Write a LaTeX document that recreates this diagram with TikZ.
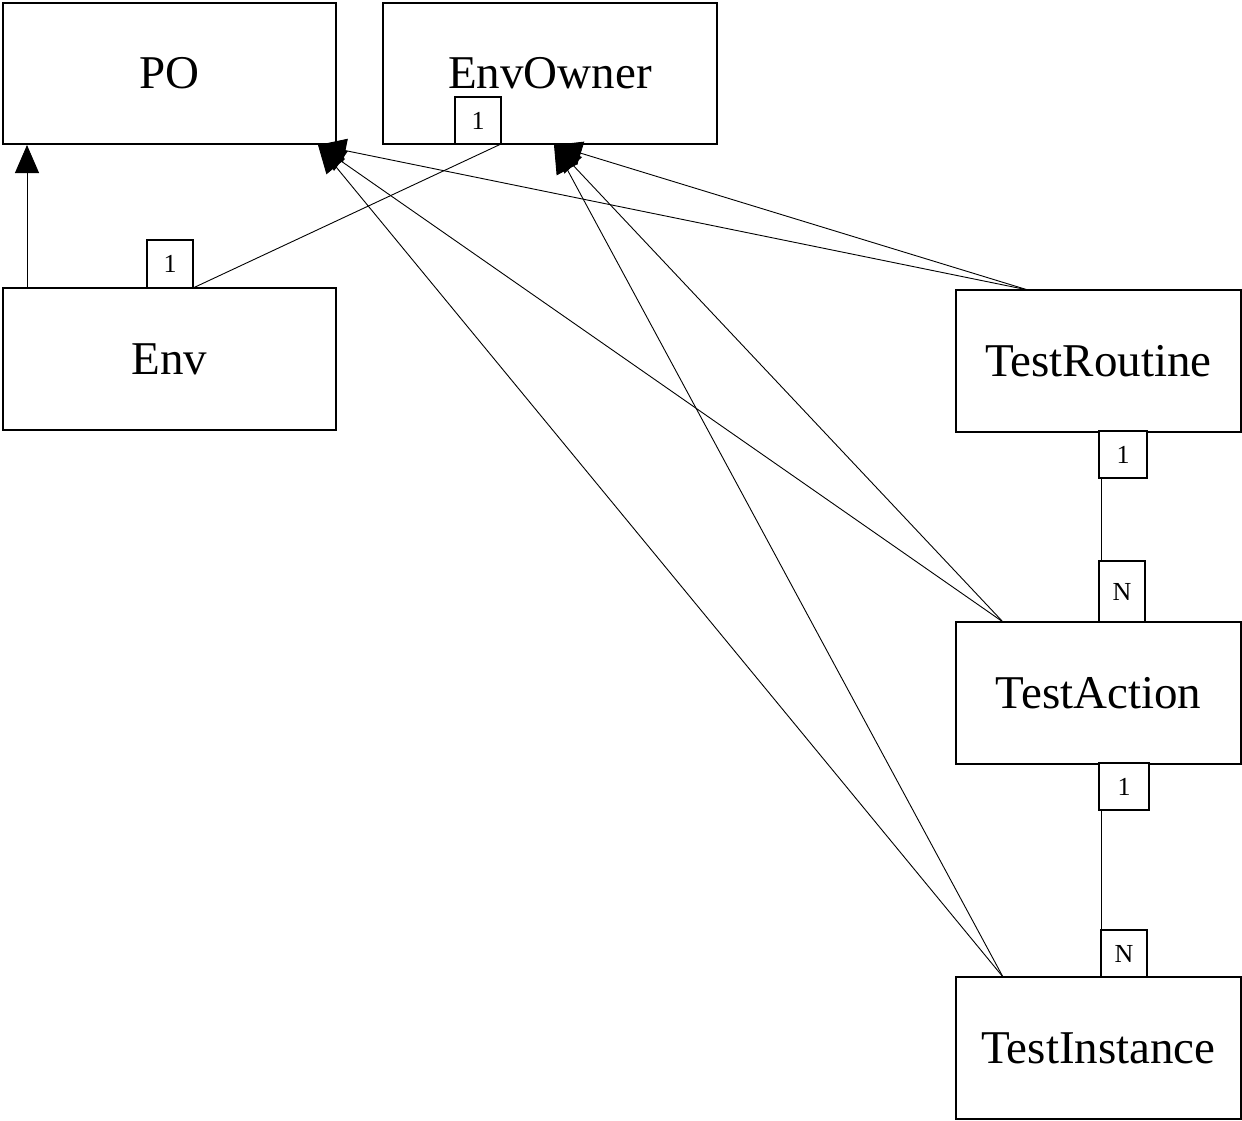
\documentclass[tikz,border=0pt]{standalone}
\usepackage{fontspec}
\setmainfont{Liberation Serif}
\usetikzlibrary{arrows.meta}
\begin{document}
\begin{tikzpicture}[x=1pt,y=-1pt,
  cls/.style={draw=black,line width=1.2pt,fill=white,inner sep=0pt,outer sep=0pt,
    font=\fontsize{47}{50}\selectfont},
  mult/.style={draw=black,line width=1.1pt,fill=white,inner sep=0pt,outer sep=0pt,
    font=\fontsize{26}{28}\selectfont},
  conn/.style={draw=black,line width=0.9pt},
  gen/.style={conn,-{Triangle[length=28pt,width=24pt]}}]
\useasboundingbox (0,0) rectangle (1242,1120);
% connector end points
\coordinate (poTip) at (318,145);
\coordinate (eoTip) at (554,145);
\coordinate (envTop) at (27,288);
\coordinate (poLeft) at (27,145);
\coordinate (trTop) at (1028,290);
\coordinate (taTop) at (1003,622);
\coordinate (tiTop) at (1003,977);
% classes
\node[cls,minimum width=333pt,minimum height=141pt] (po) at (169.5,73.5) {PO};
\node[cls,minimum width=334pt,minimum height=141pt] (eo) at (550,73.5) {EnvOwner};
\node[cls,minimum width=333pt,minimum height=142pt] (env) at (169.5,359) {Env};
\node[cls,minimum width=285pt,minimum height=142pt] (tr) at (1098.5,361) {TestRoutine};
\node[cls,minimum width=285pt,minimum height=142pt] (ta) at (1098.5,693) {TestAction};
\node[cls,minimum width=285pt,minimum height=142pt] (ti) at (1098.5,1048) {TestInstance};
% generalisations
\draw[gen] (envTop) -- (poLeft);
\draw[gen] (trTop) -- (poTip);
\draw[gen] (taTop) -- (poTip);
\draw[gen] (tiTop) -- (poTip);
\draw[gen] (trTop) -- (eoTip);
\draw[gen] (taTop) -- (eoTip);
\draw[gen] (tiTop) -- (eoTip);
% multiplicities
\node[mult,minimum width=46pt,minimum height=47pt] (mEO) at (478,120.5) {1};
\node[mult,minimum width=46pt,minimum height=48pt] (mEnv) at (170,264) {1};
\node[mult,minimum width=48pt,minimum height=47pt] (mTR) at (1123,454.5) {1};
\node[mult,minimum width=46pt,minimum height=61pt] (mTAn) at (1122,591.5) {N};
\node[mult,minimum width=50pt,minimum height=47pt] (mTA) at (1124,786.5) {1};
\node[mult,minimum width=46pt,minimum height=47pt] (mTI) at (1124,953.5) {N};
% associations
\draw[conn] (mEnv.south east) -- (mEO.south east);
\draw[conn] (mTR.south west) ++(2,0) coordinate (a1) (a1) -- (a1 |- mTAn.north);
\draw[conn] (mTA.south west) ++(2,0) coordinate (a2) (a2) -- (a2 |- mTI.north);
\end{tikzpicture}
\end{document}
